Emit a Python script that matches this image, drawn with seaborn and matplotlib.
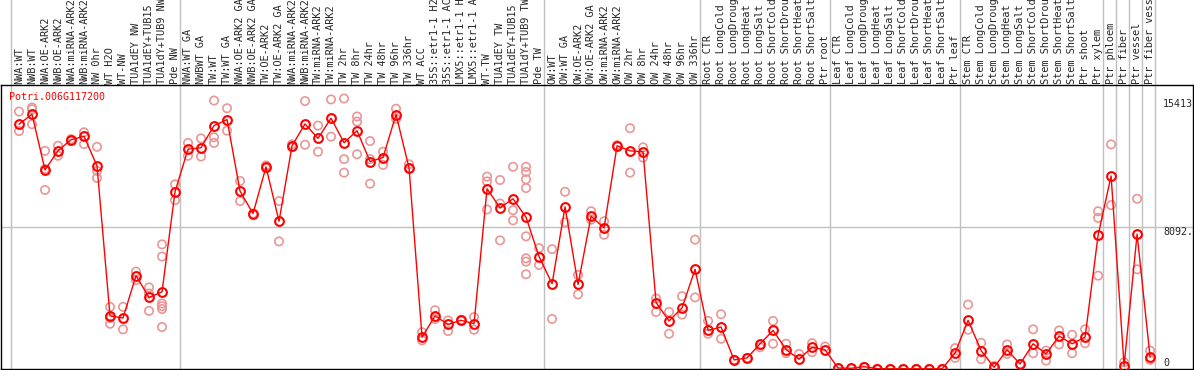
"""
Expression profile of Potri.006G117200 across poplar samples
"""

import matplotlib.pyplot as plt
import seaborn as sns
import numpy as np
import pandas as pd

gene = "Potri.006G117200"

samples = [
    "NWA:WT", "NWB:WT", "NWA:OE-ARK2", "NWB:OE-ARK2", "NWA:miRNA-ARK2",
    "NWB:miRNA-ARK2", "NW 0hr", "WT H2O", "WT-NW", "TUA1dEY NW",
    "TUA1dEY+TUB15 NW", "TUA1dY+TUB9 NW", "Pde NW", "NWA:WT GA", "NWBWT GA",
    "TW:WT", "TW:WT GA", "NWA:OE-ARK2 GA", "NWB:OE-ARK2 GA", "TW:OE-ARK2",
    "TW:OE-ARK2 GA", "NWA:miRNA-ARK2", "NWB:miRNA-ARK2", "TW:miRNA-ARK2",
    "TW:miRNA-ARK2", "TW 2hr", "TW 8hr", "TW 24hr", "TW 48hr", "TW 96hr",
    "TW 336hr", "WT ACC", "35S::etr1-1 H2O", "35S::etr1-1 ACC",
    "LMX5::etr1-1 H2O", "LMX5::etr1-1 ACC", "WT-TW", "TUA1dEY TW",
    "TUA1dEY+TUB15 TW", "TUA1dY+TUB9 TW", "Pde TW", "OW:WT", "OW:WT GA",
    "OW:OE-ARK2", "OW:OE-ARK2 GA", "OW:miRNA-ARK2", "OW:miRNA-ARK2", "OW 2hr",
    "OW 8hr", "OW 24hr", "OW 48hr", "OW 96hr", "OW 336hr", "Root CTR",
    "Root LongCold", "Root LongDrought", "Root LongHeat", "Root LongSalt",
    "Root ShortCold", "Root ShortDrought", "Root ShortHeat", "Root ShortSalt",
    "Ptr root", "Leaf CTR", "Leaf LongCold", "Leaf LongDrought", "Leaf LongHeat",
    "Leaf LongSalt", "Leaf ShortCold", "Leaf ShortDrought", "Leaf ShortHeat",
    "Leaf ShortSalt", "Ptr leaf", "Stem CTR", "Stem LongCold",
    "Stem LongDrought", "Stem LongHeat", "Stem LongSalt", "Stem ShortCold",
    "Stem ShortDrought", "Stem ShortHeat", "Stem ShortSalt", "Ptr shoot",
    "Ptr xylem", "Ptr phloem", "Ptr fiber", "Ptr vessel", "Ptr fiber vessel",
]

# mean expression per sample
means = [
    13946, 14520, 11344, 12434, 13066, 13257, 11574, 3023, 2908, 5318,
    4075, 4400, 10101, 12530, 12607, 13869, 14214, 10139, 8857, 11516,
    8417, 12721, 13965, 13142, 14290, 12894, 13582, 11822, 12052, 14501,
    11459, 1817, 3023, 2544, 2774, 2583, 10273, 9182, 9699, 8647,
    6409, 4859, 9240, 4821, 8704, 8035, 12721, 12434, 12377, 3788,
    2736, 3482, 5682, 2200, 2391, 517, 631, 1435, 2200, 1110,
    555, 1243, 1090, 57, 40, 134, 20, 10, 15, 10,
    10, 10, 918, 2774, 1052, 96, 1090, 287, 1435, 861,
    1875, 1435, 1817, 7614, 11000, 191, 7690, 670,
]

# individual replicates per sample
replicates = [
    [14670, 13560], [14900, 14800, 13950], [12430, 10200, 11400],
    [12720, 12150], [13100, 13000], [13490, 12820], [12660, 11290, 10890],
    [3540, 2580, 2900], [3540, 2260], [5550, 5070], [4650, 3310, 4300],
    [7100, 6410, 3730, 3580, 3420, 2390], [10520, 9620], [12880, 12150],
    [13140, 12110], [15300, 13200, 12880], [14860, 13580], [10710, 9570],
    [8860], [11600, 11450], [9570, 7270], [12630, 12800], [15270, 12780],
    [13870, 12380], [15360, 13240], [15413, 11960, 11190],
    [14390, 14100, 12240], [12990, 11960, 10560], [12380, 11630],
    [14830, 14250], [11670, 11420], [2100, 1630], [3350, 2850],
    [2770, 2160], [2800, 2750], [2960, 2240], [10960, 10690, 9090],
    [10770, 9430, 7330], [11520, 9050, 8470],
    [11520, 11230, 10810, 10310, 7560, 6310, 6120, 5400],
    [6890, 5930], [6830, 2850], [10100, 8360], [5360, 4250], [8990, 8510],
    [8420, 7650], [12760], [13720, 11190], [12630, 12050], [4020, 3250],
    [3250, 2010], [4150, 3100], [7370, 4080], [2740, 2010], [3120, 1720],
    [520], [630], [1240], [2740, 1440], [1440, 900], [860], [1470, 960],
    [1280], [50], [40], [130], [20], [10], [15], [10], [10], [10],
    [1190, 630], [3670, 2240], [1490, 560], [180], [1400, 860], [290],
    [2260, 900], [1050, 480], [2200, 1400], [1950, 900], [2260, 1470],
    [8990, 8610, 5320], [12800, 9340], [380], [9700, 5680], [1050, 520],
]

# first sample index of each group (separator lines drawn before them)
group_starts = [0, 13, 41, 53, 63, 73, 84, 85, 86, 87, 88]

max_val = 15413
mid_val = 8092

sns.set_style("white")
plt.rcParams["font.family"] = ["DejaVu Sans Mono"]

idx = np.arange(len(samples))
df_mean = pd.DataFrame({"i": idx, "expr": means})
df_rep = pd.DataFrame({
    "i": np.repeat(idx, [len(r) for r in replicates]),
    "expr": [v for r in replicates for v in r],
})

fig = plt.figure(figsize=(11.94, 3.70), dpi=100)
ax = fig.add_axes([1 / 1194, 1 / 370, 1192 / 1194, 284 / 370])

ax.set_xlim(-1.385, 90.3)
ax.set_ylim(0, max_val * 1.05)

# group separators, reaching up through the label strip
for b in group_starts:
    ax.axvline(b - 0.62, ymin=0, ymax=1 + 86 / 284, color="#c0c0c0",
               lw=1, clip_on=False, zorder=0)
ax.axhline(mid_val, color="#c0c0c0", lw=1, zorder=0)

sns.scatterplot(data=df_rep, x="i", y="expr", ax=ax, marker="o", s=36,
                facecolors="none", edgecolor="#eb9696", linewidth=1.2,
                zorder=2, legend=False)
sns.lineplot(data=df_mean, x="i", y="expr", ax=ax, color="red", lw=1,
             marker="o", markersize=6.3, markerfacecolor="none",
             markeredgecolor="red", markeredgewidth=1.5, zorder=3)

# sample names, read bottom-up above the plot (long ones run off the top)
for i, name in enumerate(samples):
    ax.text(i, 1 + 1 / 284, name, transform=ax.get_xaxis_transform(),
            rotation=90, ha="center", va="bottom", fontsize=7.4,
            clip_on=False)

ax.text(8 / 1192, 1 - 7 / 284, gene, transform=ax.transAxes, color="red",
        fontsize=7.2, ha="left", va="top")
ax.text(88.0, max_val, str(max_val), fontsize=7.2, ha="left", va="top")
ax.text(88.0, mid_val, "8092.", fontsize=7.2, ha="left", va="top")
ax.text(88.0, 60, "0", fontsize=7.2, ha="left", va="bottom")

ax.set_xticks([])
ax.set_yticks([])
ax.set_xlabel("")
ax.set_ylabel("")
for s in ax.spines.values():
    s.set_color("black")
    s.set_linewidth(1)

plt.savefig("out.png", dpi=100)
